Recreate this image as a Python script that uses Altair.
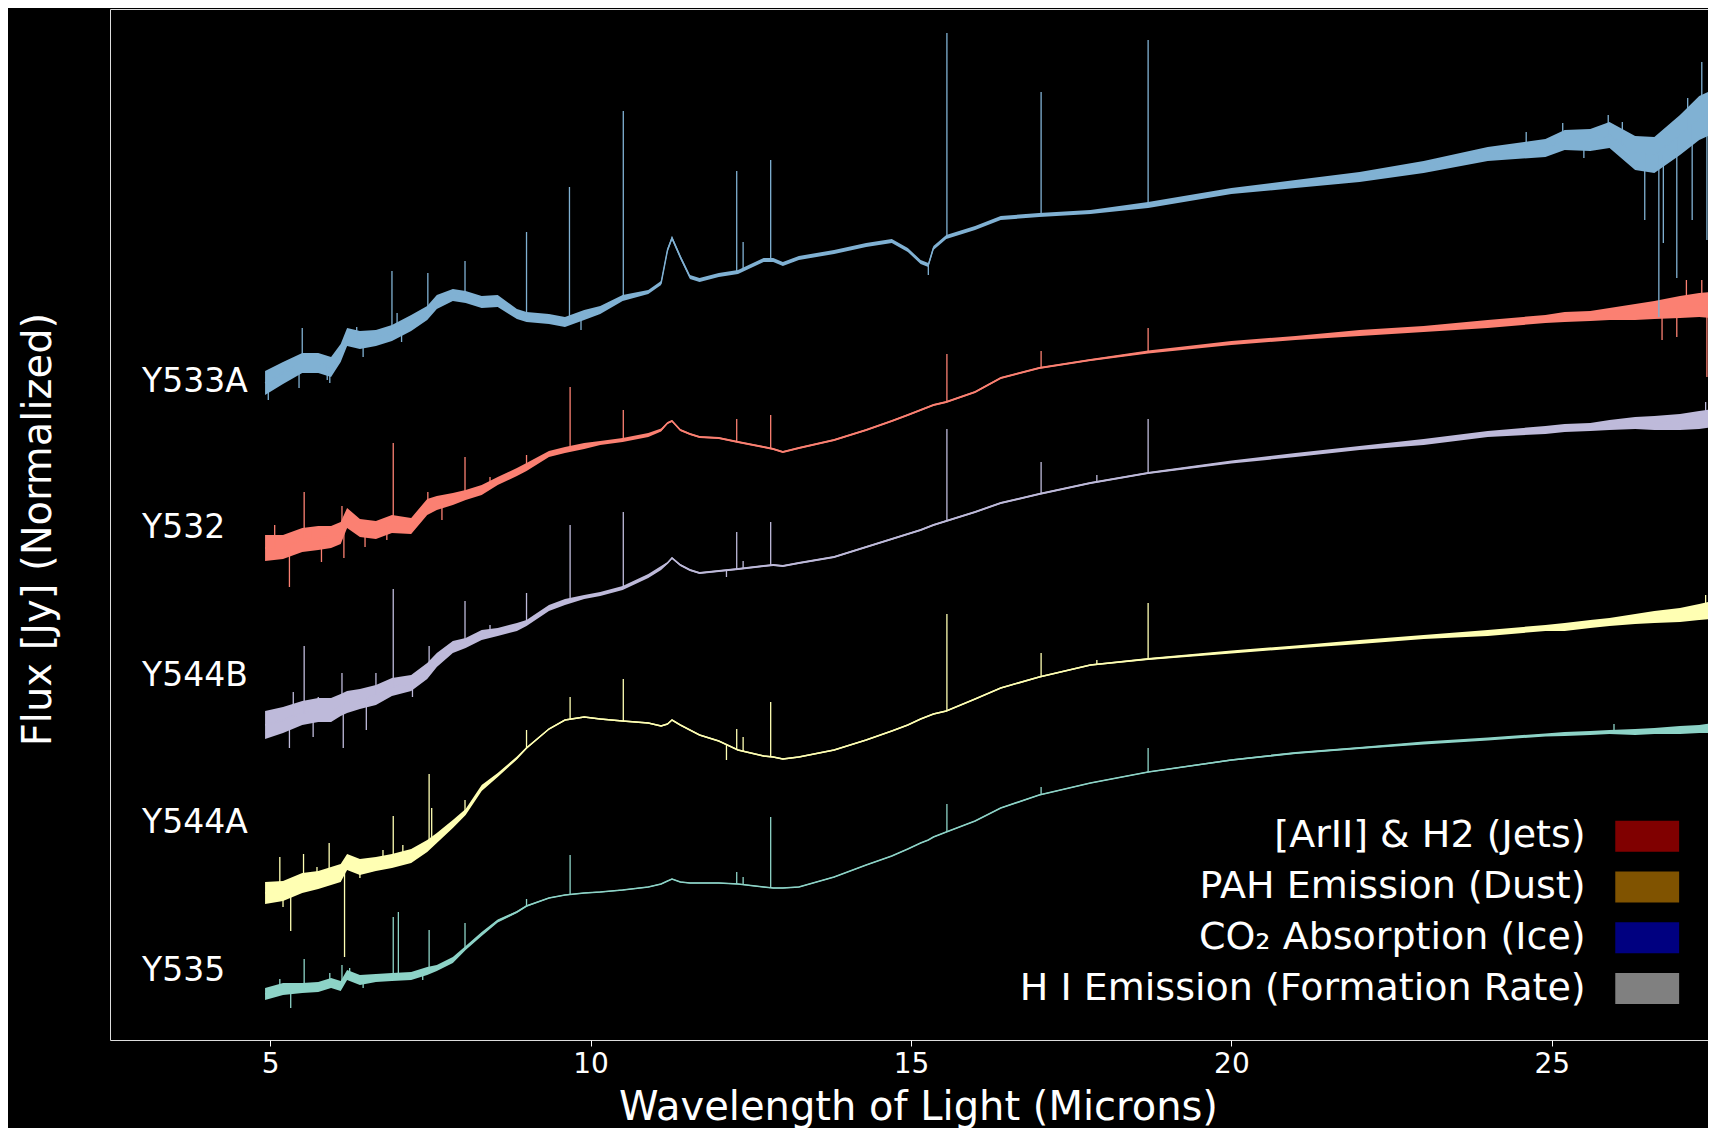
import altair as alt
import pandas as pd

# ---------------- data ----------------
wavelength = [4.92, 5.2, 5.5, 5.75, 5.95, 6.1, 6.2, 6.4, 6.65, 6.9,
              7.2, 7.45, 7.6, 7.85, 8.05, 8.3, 8.55, 8.85, 9.0, 9.35,
              9.6, 9.9, 10.15, 10.5, 10.9, 11.1, 11.2, 11.27, 11.4, 11.55,
              11.7, 12.0, 12.3, 12.7, 12.85, 13.0, 13.25, 13.8, 14.3, 14.7,
              14.95, 15.15, 15.27, 15.35, 15.55, 16.0, 16.4, 17.0, 17.8, 18.7,
              20.0, 21.0, 22.0, 23.0, 24.0, 24.9, 25.2, 25.6, 25.9, 26.3,
              26.6, 27.0, 27.3, 27.5]

flux_y533a = [6.57, 6.67, 6.77, 6.77, 6.73, 6.87, 7.03, 7.00, 7.02, 7.07,
              7.17, 7.27, 7.38, 7.45, 7.43, 7.38, 7.39, 7.26, 7.23, 7.21,
              7.18, 7.25, 7.30, 7.42, 7.48, 7.57, 7.90, 8.02, 7.83, 7.63,
              7.60, 7.65, 7.68, 7.80, 7.80, 7.76, 7.82, 7.88, 7.95, 7.99,
              7.90, 7.78, 7.75, 7.92, 8.03, 8.12, 8.22, 8.25, 8.28, 8.35,
              8.49, 8.56, 8.63, 8.73, 8.86, 8.92, 9.00, 9.00, 9.05, 8.87,
              8.85, 9.05, 9.22, 9.28]
flux_y532 = [4.92, 4.93, 5.00, 5.02, 5.03, 5.07, 5.22, 5.12, 5.10, 5.16,
             5.14, 5.33, 5.37, 5.41, 5.45, 5.50, 5.59, 5.68, 5.73, 5.86,
             5.90, 5.94, 5.97, 6.00, 6.05, 6.10, 6.17, 6.19, 6.10, 6.06,
             6.03, 6.02, 5.98, 5.93, 5.91, 5.88, 5.92, 6.00, 6.10, 6.19,
             6.25, 6.30, 6.33, 6.35, 6.38, 6.48, 6.62, 6.72, 6.80, 6.88,
             6.97, 7.02, 7.07, 7.11, 7.16, 7.21, 7.23, 7.24, 7.26, 7.28,
             7.30, 7.33, 7.35, 7.35]
flux_y544b = [3.15, 3.20, 3.27, 3.30, 3.30, 3.35, 3.38, 3.41, 3.45, 3.53,
              3.57, 3.69, 3.80, 3.93, 3.97, 4.05, 4.08, 4.13, 4.17, 4.32,
              4.38, 4.43, 4.46, 4.52, 4.64, 4.72, 4.77, 4.82, 4.75, 4.70,
              4.67, 4.69, 4.71, 4.74, 4.75, 4.74, 4.77, 4.83, 4.93, 5.01,
              5.06, 5.10, 5.13, 5.15, 5.19, 5.28, 5.37, 5.46, 5.57, 5.67,
              5.78, 5.85, 5.92, 5.98, 6.06, 6.10, 6.12, 6.13, 6.15, 6.17,
              6.17, 6.18, 6.20, 6.22]
flux_y544a = [1.47, 1.49, 1.57, 1.60, 1.64, 1.67, 1.78, 1.73, 1.76, 1.79,
              1.84, 1.94, 2.02, 2.16, 2.28, 2.52, 2.65, 2.82, 2.92, 3.11,
              3.20, 3.23, 3.21, 3.19, 3.17, 3.14, 3.16, 3.20, 3.15, 3.10,
              3.05, 2.99, 2.90, 2.84, 2.83, 2.81, 2.83, 2.90, 3.00, 3.09,
              3.15, 3.21, 3.24, 3.26, 3.29, 3.41, 3.52, 3.63, 3.75, 3.81,
              3.88, 3.93, 3.98, 4.03, 4.07, 4.12, 4.13, 4.16, 4.18, 4.21,
              4.23, 4.25, 4.28, 4.30]
flux_y535 = [0.46, 0.51, 0.52, 0.53, 0.57, 0.54, 0.65, 0.60, 0.62, 0.63,
             0.64, 0.69, 0.72, 0.80, 0.92, 1.06, 1.19, 1.28, 1.34, 1.42,
             1.45, 1.47, 1.48, 1.50, 1.53, 1.56, 1.59, 1.61, 1.58, 1.57,
             1.57, 1.57, 1.56, 1.53, 1.52, 1.52, 1.53, 1.63, 1.75, 1.84,
             1.91, 1.97, 2.00, 2.03, 2.08, 2.19, 2.32, 2.45, 2.57, 2.68,
             2.80, 2.87, 2.92, 2.97, 3.01, 3.05, 3.06, 3.07, 3.08, 3.08,
             3.09, 3.10, 3.11, 3.12]

# half-width of the noisy band around each spectrum
noise_y533a = [0.12, 0.11, 0.10, 0.10, 0.10, 0.09, 0.09, 0.09, 0.08, 0.08,
               0.08, 0.07, 0.07, 0.06, 0.06, 0.06, 0.06, 0.05, 0.05, 0.05,
               0.05, 0.05, 0.04, 0.03, 0.02, 0.02, 0.02, 0.02, 0.02, 0.02,
               0.02, 0.02, 0.02, 0.02, 0.02, 0.02, 0.02, 0.02, 0.02, 0.02,
               0.02, 0.02, 0.02, 0.02, 0.02, 0.02, 0.02, 0.02, 0.02, 0.03,
               0.03, 0.04, 0.05, 0.06, 0.07, 0.09, 0.10, 0.11, 0.13, 0.17,
               0.18, 0.20, 0.22, 0.22]
noise_y532 = [0.13, 0.12, 0.12, 0.12, 0.11, 0.11, 0.10, 0.09, 0.09, 0.09,
              0.08, 0.08, 0.07, 0.06, 0.05, 0.05, 0.04, 0.04, 0.04, 0.03,
              0.03, 0.03, 0.02, 0.02, 0.02, 0.015, 0.01, 0.01, 0.01, 0.01,
              0.01, 0.01, 0.01, 0.01, 0.01, 0.01, 0.01, 0.01, 0.01, 0.01,
              0.01, 0.01, 0.01, 0.01, 0.01, 0.01, 0.01, 0.01, 0.01, 0.015,
              0.02, 0.02, 0.03, 0.03, 0.04, 0.04, 0.05, 0.05, 0.06, 0.08,
              0.09, 0.11, 0.12, 0.13]
noise_y544b = [0.14, 0.13, 0.12, 0.12, 0.12, 0.11, 0.11, 0.10, 0.10, 0.09,
               0.08, 0.08, 0.07, 0.06, 0.05, 0.05, 0.04, 0.04, 0.03, 0.03,
               0.03, 0.02, 0.02, 0.02, 0.02, 0.02, 0.01, 0.01, 0.01, 0.01,
               0.01, 0.01, 0.01, 0.01, 0.01, 0.01, 0.01, 0.01, 0.01, 0.01,
               0.01, 0.01, 0.01, 0.01, 0.01, 0.01, 0.01, 0.01, 0.01, 0.01,
               0.015, 0.02, 0.02, 0.03, 0.03, 0.04, 0.04, 0.04, 0.05, 0.06,
               0.07, 0.08, 0.09, 0.09]
noise_y544a = [0.11, 0.10, 0.10, 0.09, 0.09, 0.09, 0.08, 0.08, 0.07, 0.07,
               0.07, 0.06, 0.05, 0.04, 0.03, 0.03, 0.02, 0.015, 0.01, 0.008,
               0.008, 0.008, 0.008, 0.008, 0.008, 0.008, 0.008, 0.008, 0.008, 0.008,
               0.008, 0.008, 0.008, 0.008, 0.008, 0.008, 0.008, 0.008, 0.008, 0.008,
               0.008, 0.008, 0.008, 0.008, 0.008, 0.008, 0.008, 0.008, 0.008, 0.01,
               0.015, 0.015, 0.02, 0.02, 0.03, 0.03, 0.04, 0.04, 0.04, 0.05,
               0.06, 0.07, 0.08, 0.09]
noise_y535 = [0.06, 0.06, 0.05, 0.05, 0.05, 0.05, 0.05, 0.05, 0.04, 0.04,
              0.04, 0.04, 0.03, 0.03, 0.02, 0.02, 0.015, 0.01, 0.008, 0.006,
              0.006, 0.006, 0.006, 0.006, 0.006, 0.006, 0.006, 0.006, 0.006, 0.006,
              0.006, 0.006, 0.006, 0.006, 0.006, 0.006, 0.006, 0.006, 0.006, 0.006,
              0.006, 0.006, 0.006, 0.006, 0.006, 0.006, 0.006, 0.006, 0.006, 0.006,
              0.008, 0.01, 0.01, 0.015, 0.015, 0.015, 0.02, 0.02, 0.02, 0.03,
              0.03, 0.04, 0.04, 0.05]

# narrow lines / glitches: (wavelength, continuum flux, tip flux)
spikes_y533a = [(4.97, 6.57, 6.40), (5.45, 6.77, 6.52), (5.50, 6.77, 7.12),
                (5.89, 6.75, 6.60), (5.93, 6.73, 6.57), (6.35, 7.00, 7.13),
                (6.45, 7.00, 6.83), (6.90, 7.07, 7.69), (6.98, 7.07, 7.27),
                (7.05, 7.10, 6.98), (7.46, 7.27, 7.67), (8.04, 7.43, 7.79),
                (9.00, 7.23, 8.08), (9.67, 7.18, 8.53), (9.85, 7.25, 7.10),
                (10.51, 7.42, 9.29), (12.28, 7.68, 8.69), (12.38, 7.70, 7.98),
                (12.81, 7.82, 8.80), (15.27, 7.75, 7.65), (15.56, 8.03, 10.07),
                (17.03, 8.25, 9.48), (18.70, 8.35, 10.00), (24.60, 8.90, 9.08),
                (25.17, 9.00, 9.17), (25.50, 9.00, 8.82), (25.88, 9.05, 9.25),
                (26.10, 8.95, 9.18), (26.45, 8.87, 8.20), (26.67, 8.85, 7.23),
                (26.74, 8.85, 7.97), (26.95, 9.00, 7.62), (27.12, 9.10, 9.42),
                (27.19, 9.15, 8.20), (27.34, 9.22, 9.78), (27.42, 9.25, 8.00)]
spikes_y532 = [(5.07, 4.92, 5.15), (5.20, 4.93, 5.05), (5.30, 4.93, 4.53),
               (5.53, 5.00, 5.48), (5.65, 5.01, 5.13), (5.80, 5.02, 4.78),
               (6.12, 5.07, 5.34), (6.15, 5.07, 4.82), (6.48, 5.12, 4.93),
               (6.82, 5.13, 5.00), (6.92, 5.16, 5.97), (7.46, 5.33, 5.48),
               (7.68, 5.38, 5.20), (8.04, 5.45, 5.83), (8.43, 5.55, 5.63),
               (9.00, 5.73, 5.85), (9.68, 5.90, 6.53), (10.51, 6.00, 6.30),
               (12.28, 5.98, 6.21), (12.81, 5.91, 6.25), (15.56, 6.38, 6.86),
               (17.03, 6.72, 6.89), (18.70, 6.88, 7.12), (26.72, 7.30, 7.00),
               (26.95, 7.33, 7.03), (27.10, 7.34, 7.60), (27.34, 7.35, 7.60),
               (27.42, 7.35, 6.63)]
spikes_y544b = [(5.30, 3.20, 2.92), (5.36, 3.22, 3.48), (5.53, 3.27, 3.94),
                (5.67, 3.28, 3.03), (5.75, 3.30, 3.43), (6.12, 3.35, 3.67),
                (6.14, 3.35, 2.92), (6.50, 3.42, 3.10), (6.65, 3.45, 3.67),
                (6.92, 3.53, 4.51), (7.22, 3.58, 3.43), (7.48, 3.69, 3.94),
                (8.04, 3.97, 4.39), (8.43, 4.06, 4.15), (9.00, 4.17, 4.47),
                (9.68, 4.40, 5.15), (10.51, 4.52, 5.28), (12.12, 4.70, 4.63),
                (12.28, 4.71, 5.08), (12.38, 4.72, 4.79), (12.81, 4.75, 5.18),
                (15.56, 5.19, 6.11), (17.03, 5.46, 5.78), (17.90, 5.58, 5.65),
                (18.70, 5.67, 6.21), (27.40, 6.22, 6.38)]
spikes_y544a = [(5.15, 1.49, 1.83), (5.20, 1.49, 1.33), (5.32, 1.51, 1.09),
                (5.52, 1.57, 1.86), (5.73, 1.60, 1.73), (5.92, 1.64, 1.97),
                (6.16, 1.67, 0.83), (6.22, 1.70, 1.85), (6.40, 1.73, 1.62),
                (6.76, 1.77, 1.90), (6.92, 1.79, 2.24), (7.07, 1.82, 1.95),
                (7.48, 1.94, 2.66), (7.52, 1.96, 2.32), (8.04, 2.28, 2.40),
                (9.00, 2.92, 3.10), (9.68, 3.20, 3.43), (10.51, 3.19, 3.61),
                (12.12, 2.95, 2.80), (12.28, 2.90, 3.11), (12.38, 2.88, 3.03),
                (12.81, 2.83, 3.38), (15.56, 3.29, 4.26), (17.03, 3.63, 3.87),
                (17.90, 3.75, 3.80), (18.70, 3.81, 4.37), (27.40, 4.30, 4.45)]
spikes_y535 = [(5.15, 0.51, 0.61), (5.32, 0.52, 0.32), (5.53, 0.52, 0.81),
               (5.93, 0.57, 0.67), (6.12, 0.54, 0.75), (6.24, 0.64, 0.72),
               (6.45, 0.61, 0.52), (6.92, 0.63, 1.23), (7.00, 0.63, 1.28),
               (7.38, 0.67, 0.60), (7.48, 0.69, 1.10), (8.04, 0.92, 1.17),
               (9.00, 1.34, 1.41), (9.68, 1.45, 1.85), (12.28, 1.56, 1.68),
               (12.38, 1.55, 1.63), (12.81, 1.52, 2.23), (15.56, 2.08, 2.36),
               (17.03, 2.45, 2.53), (18.70, 2.68, 2.92), (25.97, 3.08, 3.16)]

sources = ["Y533A", "Y532", "Y544B", "Y544A", "Y535"]
source_colors = ["#80b1d3", "#fb8072", "#bebada", "#ffffb3", "#8dd3c7"]
label_wavelength = 3.0
label_flux = [6.48, 5.02, 3.54, 2.07, 0.59]

feature_labels = ["[ArII] & H2 (Jets)", "PAH Emission (Dust)",
                  "CO\u2082 Absorption (Ice)", "H I Emission (Formation Rate)"]
feature_colors = ["#800000", "#805300", "#000080", "#808080"]

# ---------------- tables ----------------
fluxes = [flux_y533a, flux_y532, flux_y544b, flux_y544a, flux_y535]
noises = [noise_y533a, noise_y532, noise_y544b, noise_y544a, noise_y535]
spikes = [spikes_y533a, spikes_y532, spikes_y544b, spikes_y544a, spikes_y535]

rows = []
for name, fl, nz in zip(sources, fluxes, noises):
    assert len(fl) == len(wavelength) == len(nz)
    for w, f, n in zip(wavelength, fl, nz):
        rows.append({"source": name, "wl": w, "flux": f, "lo": f - n, "hi": f + n})
spec_df = pd.DataFrame(rows)

srows = []
for name, sp in zip(sources, spikes):
    for w, b, t in sp:
        srows.append({"source": name, "wl": w, "base": b, "tip": t})
spike_df = pd.DataFrame(srows)

label_df = pd.DataFrame({"source": sources, "wl": [label_wavelength] * 5, "flux": label_flux})
feature_df = pd.DataFrame({"feature": feature_labels})

FONT = "DejaVu Sans"
XTITLE = "Wavelength of Light (Microns)"
YTITLE = "Flux [Jy] (Normalized)"

xscale = alt.Scale(domain=[2.5, 27.437], nice=False, zero=False)
yscale = alt.Scale(domain=[0, 10.31], nice=False, zero=False)
xaxis = alt.Axis(values=[5, 10, 15, 20, 25], format="d", domain=False, grid=False,
                 tickColor="white", tickSize=6, tickWidth=1,
                 labelColor="white", labelFontSize=28, labelFont=FONT, labelPadding=4,
                 titleColor="white", titleFontSize=40, titleFont=FONT,
                 titleFontWeight="normal", titleBaseline="alphabetic",
                 titleY=79, titleX=808, titleAlign="center")
yaxis = alt.Axis(labels=False, ticks=False, domain=False, grid=False,
                 titleColor="white", titleFontSize=40, titleFont=FONT,
                 titleFontWeight="normal", titleAngle=270, titleX=-60, titleY=520,
                 titleAlign="center", titleBaseline="alphabetic")

color = alt.Color("source:N", scale=alt.Scale(domain=sources, range=source_colors), legend=None)

band = alt.Chart(spec_df).mark_area(clip=True, opacity=1).encode(
    x=alt.X("wl:Q", scale=xscale, axis=xaxis, title=XTITLE),
    y=alt.Y("lo:Q", scale=yscale, axis=yaxis, title=YTITLE, stack=None),
    y2="hi:Q",
    color=color,
)
line = alt.Chart(spec_df).mark_line(clip=True, strokeWidth=1.5).encode(
    x=alt.X("wl:Q", scale=xscale, axis=xaxis, title=XTITLE),
    y=alt.Y("flux:Q", scale=yscale, axis=yaxis, title=YTITLE),
    color=color,
)
rule = alt.Chart(spike_df).mark_rule(clip=True, strokeWidth=1.3).encode(
    x=alt.X("wl:Q", scale=xscale, axis=xaxis, title=XTITLE),
    y=alt.Y("base:Q", scale=yscale, axis=yaxis, title=YTITLE),
    y2="tip:Q",
    color=color,
)
labels = alt.Chart(label_df).mark_text(align="left", baseline="alphabetic",
                                       fontSize=33, font=FONT, color="white").encode(
    x=alt.X("wl:Q", scale=xscale, axis=xaxis, title=XTITLE),
    y=alt.Y("flux:Q", scale=yscale, axis=yaxis, title=YTITLE),
    text="source:N",
)
legend_layer = alt.Chart(feature_df).mark_square(opacity=0).encode(
    fill=alt.Fill("feature:N",
                  scale=alt.Scale(domain=feature_labels, range=feature_colors),
                  sort=feature_labels,
                  legend=alt.Legend(orient="none", legendX=1518.2, legendY=808.2,
                                    title=None, padding=0, offset=0,
                                    symbolType="M-2.06,-1H2.06V1H-2.06Z", symbolSize=961,
                                    symbolOpacity=1, symbolStrokeWidth=0,
                                    labelFont=FONT, labelFontSize=38, labelColor="white",
                                    labelAlign="right", labelOffset={"expr": "-80.6"},
                                    labelLimit=2000, rowPadding=12.8)),
)

chart = alt.layer(band, line, rule, labels, legend_layer).properties(
    width=1598, height=1031,
    autosize=alt.AutoSizeParams(type="none"),
    padding={"left": 102, "top": 1, "right": 0, "bottom": 88},
    background="black",
).configure_view(stroke="white", strokeWidth=1).configure(font=FONT)

chart.save("out.html", embed_options={"renderer": "svg", "actions": False})
